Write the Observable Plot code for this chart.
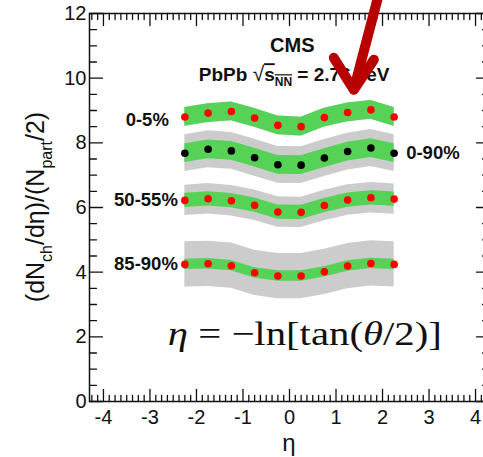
<!DOCTYPE html>
<html><head><meta charset="utf-8">
<script src="https://cdn.jsdelivr.net/npm/d3@7"></script>
<script src="https://cdn.jsdelivr.net/npm/@observablehq/plot@0.6"></script>
<style>html,body{margin:0;padding:0;background:#fff;overflow:hidden}</style>
</head><body><div id="chart"></div>
<script>
// ---- data ----
const eta = [-2.25, -1.75, -1.25, -0.75, -0.25, 0.25, 0.75, 1.25, 1.75, 2.25];
const seriesNames = ["0-5%", "0-90%", "50-55%", "85-90%"];
const c0_5   = [8.80, 8.92, 8.97, 8.77, 8.54, 8.50, 8.78, 8.94, 9.02, 8.80];
const c0_90  = [7.68, 7.80, 7.75, 7.54, 7.32, 7.31, 7.53, 7.73, 7.84, 7.68];
const c50_55 = [6.22, 6.27, 6.21, 6.07, 5.86, 5.85, 6.06, 6.23, 6.30, 6.26];
const c85_90 = [4.24, 4.26, 4.20, 3.98, 3.88, 3.88, 4.01, 4.19, 4.27, 4.24];
const errGreen = [0.29, 0.29, 0.22, 0.16];
const errGray  = [0.29, 0.57, 0.47, 0.70];
const dotColor = ["red", "black", "red", "red"];
const xTicks = [-4, -3, -2, -1, 0, 1, 2, 3, 4];
const yTicks = [0, 2, 4, 6, 8, 10, 12];
const xDomain = [-4.3, 4.3];
const yDomain = [0, 12];
const cmsText = "CMS";
const energyText = "2.76 TeV";
// annotation arrow (data units)
const arrowShaft = [{x: 1.92, y: 12.6}, {x: 1.384, y: 9.66}];
const arrowHead = [{x: 0.953, y: 10.63}, {x: 1.384, y: 9.64}, {x: 1.814, y: 10.57}];

// ---- build tables ----
const values = [c0_5, c0_90, c50_55, c85_90];
const rows = [];
values.forEach((vals, s) => vals.forEach((v, i) => rows.push({
  series: seriesNames[s], eta: eta[i], v,
  lo: v - errGreen[s], hi: v + errGreen[s],
  glo: v - errGray[s], ghi: v + errGray[s],
  color: dotColor[s]
})));
const leftLabels = rows.filter(d => d.eta === eta[0] && d.series !== "0-90%" && d.series !== "0-5%");
const topLabel = rows.filter(d => d.eta === eta[0] && d.series === "0-5%");
const rightLabel = rows.filter(d => d.eta === eta[eta.length - 1] && d.series === "0-90%");

const xMinor = d3.range(-34, 35).filter(k => k % 8 !== 0).map(k => k / 8);
const yMinor = d3.range(0, 25).filter(k => k % 4 !== 0).map(k => k / 2);
const tickShape = {draw(ctx, l) { ctx.moveTo(0, 0); ctx.lineTo(0, -l); }};
const ink = "#111";
const tk = (data, x, y, len, rot) => Plot.vector(data, {
  x, y, length: len, rotate: rot, anchor: "start", shape: tickShape, stroke: ink, strokeWidth: 1.3
});

const plot = Plot.plot({
  width: 483, height: 457,
  marginLeft: 89, marginRight: -6, marginTop: 13, marginBottom: 56,
  x: {domain: xDomain, axis: null},
  y: {domain: yDomain, axis: null},
  style: {fontFamily: "'Liberation Sans', Arial, sans-serif", background: "white"},
  marks: [
    Plot.areaY(rows, {x: "eta", y1: "glo", y2: "ghi", z: "series", fill: "#cccccc", curve: "linear"}),
    Plot.areaY(rows, {x: "eta", y1: "lo", y2: "hi", z: "series", fill: "#56d256", curve: "linear"}),
    Plot.dot(rows, {x: "eta", y: "v", r: 3.8, fill: "color", stroke: null}),
    Plot.text(leftLabels, {x: "eta", y: "v", text: "series", textAnchor: "end", dx: -7, fontSize: 18.5, fontWeight: "bold", fill: ink}),
    Plot.text(topLabel, {x: "eta", y: "v", text: "series", textAnchor: "end", dx: -16, dy: 3, fontSize: 18.5, fontWeight: "bold", fill: ink}),
    Plot.text(rightLabel, {x: "eta", y: "v", text: "series", textAnchor: "start", dx: 12, fontSize: 18.5, fontWeight: "bold", fill: ink}),
    Plot.text([cmsText], {x: 0.06, y: 11.0, text: d => d, fontSize: 20, fontWeight: "bold", fill: ink}),
    Plot.frame({stroke: ink, strokeWidth: 1.5}),
    tk(xTicks, d => d, 0, 12, 0),
    tk(xMinor, d => d, 0, 6, 0),
    tk(xTicks, d => d, 12, 12, 180),
    tk(xMinor, d => d, 12, 6, 180),
    tk(yTicks, -4.3, d => d, 13, 90),
    tk(yMinor, -4.3, d => d, 7, 90),
    tk(yTicks, 4.3, d => d, 13, 270),
    tk(yMinor, 4.3, d => d, 7, 270),
    Plot.axisX({ticks: xTicks, tickSize: 0, tickPadding: 8, tickFormat: d => String(d), fontSize: 20, label: null, fill: ink}),
    Plot.axisY({ticks: yTicks, tickSize: 0, tickPadding: 3, tickFormat: d => String(d), fontSize: 20, label: null, fill: ink}),
    Plot.line(arrowShaft, {x: "x", y: "y", stroke: "#b80000", strokeWidth: 10, strokeLinecap: "round"}),
    Plot.line(arrowHead, {x: "x", y: "y", stroke: "#b80000", strokeWidth: 10, strokeLinecap: "round", strokeLinejoin: "round"})
  ]
});
document.getElementById("chart").appendChild(plot);

// rich-text annotations positioned through the plot's scales
const xs = plot.scale("x"), ys = plot.scale("y");
const svg = d3.select(plot);
const ann = svg.append("g").attr("fill", ink).attr("font-family", "'Liberation Sans', Arial, sans-serif");

// y-axis title
const yl = ann.append("text")
  .attr("transform", `translate(44,${ys.apply(6.0)}) rotate(-90)`)
  .attr("text-anchor", "middle").attr("font-size", 25);
yl.append("tspan").text("(dN");
yl.append("tspan").attr("font-size", 16).attr("dy", 8).text("ch");
yl.append("tspan").attr("dy", -8).text("/dη)/(N");
yl.append("tspan").attr("font-size", 16).attr("dy", 8).text("part");
yl.append("tspan").attr("dy", -8).text("/2)");

// x-axis title
ann.append("text").attr("x", xs.apply(0)).attr("y", 451)
  .attr("text-anchor", "middle").attr("font-size", 24).text("η");

// energy line
const st = ann.append("text").attr("x", xs.apply(0.11)).attr("y", ys.apply(9.89))
  .attr("text-anchor", "middle").attr("font-size", 19).attr("font-weight", "bold");
st.append("tspan").text("PbPb ");
st.append("tspan").attr("font-weight", "normal").attr("font-size", 21).text("√");
st.append("tspan").style("text-decoration", "overline").text("s");
st.append("tspan").style("text-decoration", "overline").attr("font-size", 12).attr("dy", 5).text("NN");
st.append("tspan").attr("dy", -5).text(" = " + energyText);

// formula
const fm = ann.append("text").attr("x", xs.apply(0.34)).attr("y", ys.apply(1.74))
  .attr("text-anchor", "middle").attr("font-size", 34)
  .attr("textLength", 274).attr("lengthAdjust", "spacingAndGlyphs")
  .attr("font-family", "'Liberation Serif', 'Times New Roman', serif");
fm.append("tspan").attr("font-style", "italic").text("η");
fm.append("tspan").text(" = −ln[tan(");
fm.append("tspan").attr("font-style", "italic").text("θ");
fm.append("tspan").text("/2)]");

// keep the arrow on top
svg.selectAll("[aria-label=line]").raise();
</script>
</body></html>
